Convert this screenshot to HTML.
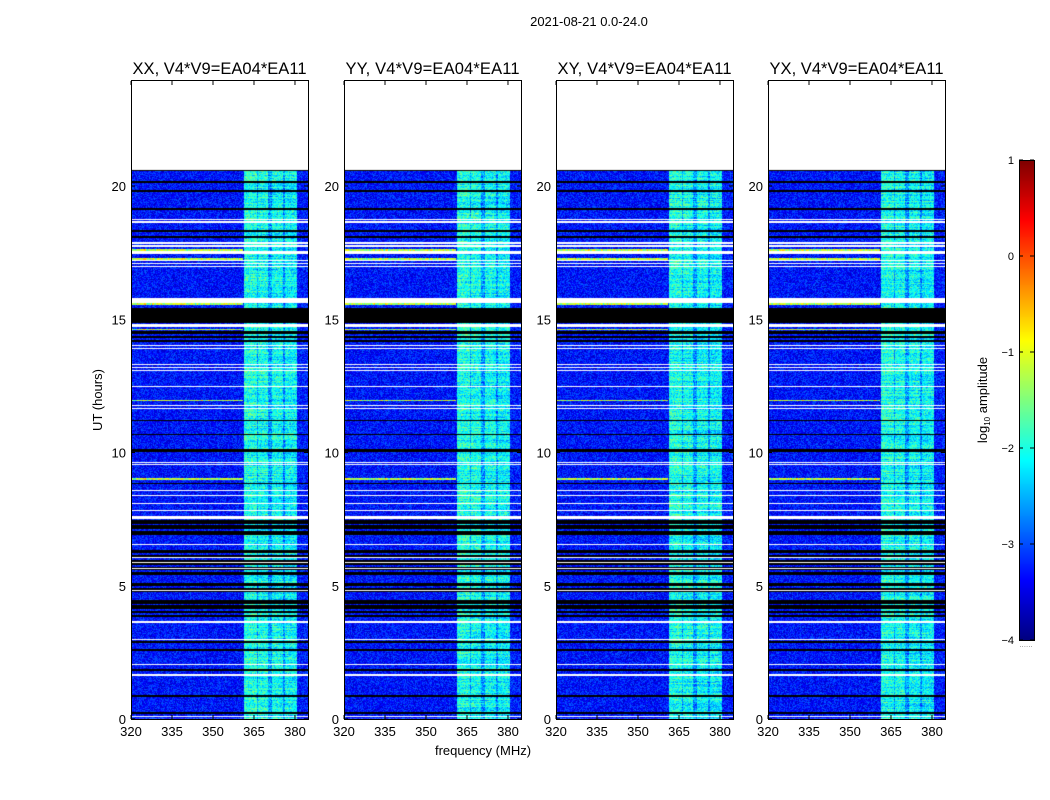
<!DOCTYPE html>
<html><head><meta charset="utf-8"><style>
body{margin:0;background:#fff;width:1050px;height:800px;overflow:hidden;position:relative;font-family:"Liberation Sans",sans-serif}
canvas{position:absolute}
svg{position:absolute;left:0;top:0}
</style></head><body>
<div id="wrap"></div>
<svg id="ov" width="1050" height="800"></svg>
<script>
// ---- data ----
const panelTitles = ["XX, V4*V9=EA04*EA11","YY, V4*V9=EA04*EA11","XY, V4*V9=EA04*EA11","YX, V4*V9=EA04*EA11"];
const panelLefts = [131,344,556,768];
const xTicks = [320,335,350,365,380];
const yTicks = [0,5,10,15,20];
const cbTicks = [1,0,-1,-2,-3,-4];
const dataTopHour = 20.6;
// frequency band edges (MHz) and mean log10 amplitude levels
const bandEdges = [320,361.5,366,366.5,370.2,371.6,375.6,376.4,380.8,385];
const bandLevels = [-3.3,-2.0,-2.55,-2.05,-2.6,-2.1,-2.65,-2.15,-3.25];
// flagged (black) time spans [start,end] in hours
const blackSpans = [[20.55,20.62],[20.12,20.18],[19.78,19.84],[19.11,19.17],[18.28,18.34],[18.06,18.12],
 [14.87,15.43],[14.16,14.57],[11.17,11.23],[10.64,10.7],[10.01,10.13],[8.81,8.87],[6.89,7.45],
 [5.39,6.33],[4.76,5.09],[3.82,4.46],[2.85,2.91],[2.55,2.61],[1.81,1.87],[0.83,0.89],[0.19,0.25]];
// gaps (white) time spans
const whiteSpans = [[18.73,18.78],[18.62,18.67],[17.84,17.89],[17.72,17.77],[17.45,17.57],[17.17,17.21],[17.06,17.1],[16.95,16.99],
 [15.62,15.81],[14.72,14.83],[13.99,14.03],[13.88,13.92],[13.28,13.32],[13.16,13.2],[13.05,13.09],[12.45,12.49],[11.74,11.78],[11.63,11.67],
 [9.61,9.65],[9.53,9.57],[8.56,8.6],[8.37,8.41],[8.07,8.11],[7.81,7.85],[7.52,7.6],[6.53,6.57],[6.05,6.09],[5.86,5.9],[5.64,5.68],
 [4.81,4.85],[3.6,3.67],[2.98,3.02],[2.04,2.08],[1.61,1.69],[0.09,0.13]];
// stripes inside dense flagged zones kept visible (hours)
const gapRowsInBlack = [7.3,7.1,6.2,6.0,5.75,5.55,4.95,4.3,4.1,3.95,14.4,14.25];
// RFI rows (hours) with level
const rfiRows = [17.6,17.25,15.58,14.62,11.95,9.0,4.45];
const rfiLevel = -1.2;

function jet(t){t=Math.max(0,Math.min(1,t));
 const r=Math.max(0,Math.min(1,1.5-Math.abs(4*t-3))),g=Math.max(0,Math.min(1,1.5-Math.abs(4*t-2))),b=Math.max(0,Math.min(1,1.5-Math.abs(4*t-1)));
 return [r*255|0,g*255|0,b*255|0];}
function hash(a,b){let h=(a*374761393+b*668265263)|0;h=(h^(h>>>13))*1274126177|0;return ((h^(h>>>16))>>>0)/4294967295;}
const PW=177,Y0=719,PPH=26.65,PPM=2.733;
const yOf=h=>Y0-h*PPH, xOf=(l,f)=>l+(f-320)*PPM;
function inSpan(arr,h){return arr.some(s=>h>=s[0]&&h<=s[1]);}
function bandLevel(f){for(let i=0;i<bandLevels.length;i++)if(f>=bandEdges[i]&&f<bandEdges[i+1])return bandLevels[i];return bandLevels[bandLevels.length-1];}

const wrap=document.getElementById('wrap');
panelLefts.forEach((L,p)=>{
 const c=document.createElement('canvas');c.width=PW;c.height=640;c.style.left=L+'px';c.style.top='80px';
 
 
 wrap.appendChild(c);
 const ctx=c.getContext('2d'),img=ctx.createImageData(PW,640);
 for(let py=0;py<640;py++){
  const h=(Y0-(80+py+0.5))/PPH;
  const rowVar=(hash(py,p+77)-0.5)*0.5;
  for(let px=0;px<PW;px++){
   const f=320+(px+0.5)/PPM; let col;
   if(h>dataTopHour||h<0) col=[255,255,255];
   else if(inSpan(whiteSpans,h)) col=[255,255,255];
   else if(inSpan(blackSpans,h)&&!gapRowsInBlack.some(g=>Math.abs(g-h)<0.03)) col=[0,0,0];
   else{
    let lv=bandLevel(f);
    const inBand=f>=bandEdges[1]&&f<bandEdges[8];
    if(f<361&&rfiRows.some(r=>Math.abs(r-h)<0.03)) lv=rfiLevel+(hash(px,p)-0.5)*0.8;
    if(inBand) lv+=rowVar;
    lv+=(hash(px+p*1000,py)-0.5)*(inBand?0.9:0.8);
    col=jet((lv+4)/5);
   }
   const k=(py*PW+px)*4;img.data[k]=col[0];img.data[k+1]=col[1];img.data[k+2]=col[2];img.data[k+3]=255;
  }
 }
 ctx.putImageData(img,0,0);
});
// colorbar
const cb=document.createElement('canvas');cb.width=15;cb.height=480;cb.style.left='1019px';cb.style.top='160px';


wrap.appendChild(cb);
{const ctx=cb.getContext('2d');for(let y=0;y<480;y++){const c=jet(1-y/480);ctx.fillStyle=`rgb(${c})`;ctx.fillRect(0,y,15,1);}}

const NS='http://www.w3.org/2000/svg',ov=document.getElementById('ov');
function el(t,a,txt){const e=document.createElementNS(NS,t);for(const k in a)e.setAttribute(k,a[k]);if(txt!==undefined)e.textContent=txt;ov.appendChild(e);return e;}
let e=el('text',{x:589,y:26,'text-anchor':'middle','font-size':13,fill:'#000'},'2021-08-21 0.0-24.0');


panelLefts.forEach((L,p)=>{
 const R=L+PW;
 e=el('rect',{x:L+0.5,y:80.5,width:PW,height:639,fill:'none',stroke:'#000','stroke-width':1});
 
 
 e=el('text',{x:L+PW/2,y:74,'text-anchor':'middle','font-size':16.5,fill:'#000',textLength:174},panelTitles[p]);
 
 
 xTicks.forEach(v=>{const x=xOf(L,v);
  el('line',{x1:x,x2:x,y1:719,y2:715,stroke:'#000'});el('line',{x1:x,x2:x,y1:81,y2:85,stroke:'#000'});
  e=el('text',{x:x,y:736,'text-anchor':'middle','font-size':13,fill:'#000'},v);
  
  });
 yTicks.forEach(v=>{const y=yOf(v);
  el('line',{x1:L,x2:L+4,y1:y,y2:y,stroke:'#000'});el('line',{x1:R,x2:R-4,y1:y,y2:y,stroke:'#000'});
  e=el('text',{x:L-5,y:y+5,'text-anchor':'end','font-size':13,fill:'#000'},v);
  
  });
});
e=el('text',{x:483,y:755,'text-anchor':'middle','font-size':13,fill:'#000'},'frequency (MHz)');


e=el('text',{x:0,y:0,'text-anchor':'middle','font-size':13,fill:'#000',transform:'translate(102,400) rotate(-90)'},'UT (hours)');


e=el('rect',{x:1019.5,y:160.5,width:15,height:480,fill:'none',stroke:'#000'});


cbTicks.forEach(v=>{const y=160+(1-v)*96;
 el('line',{x1:1019,x2:1023,y1:y,y2:y,stroke:'#000'});el('line',{x1:1034,x2:1030,y1:y,y2:y,stroke:'#000'});
 e=el('text',{x:1014,y:y+4,'text-anchor':'end','font-size':11,fill:'#000'},v<0?'\u2212'+(-v):v);
 
 });
e=el('text',{x:0,y:0,'text-anchor':'middle','font-size':13,fill:'#000',transform:'translate(987,400) rotate(-90)'});
e.innerHTML='log<tspan font-size="8" dy="3">10</tspan><tspan dy="-3"> amplitude</tspan>';


el('text',{x:1026,y:647,'text-anchor':'middle','font-size':8,fill:'#888'},'......');
</script>
</body></html>
